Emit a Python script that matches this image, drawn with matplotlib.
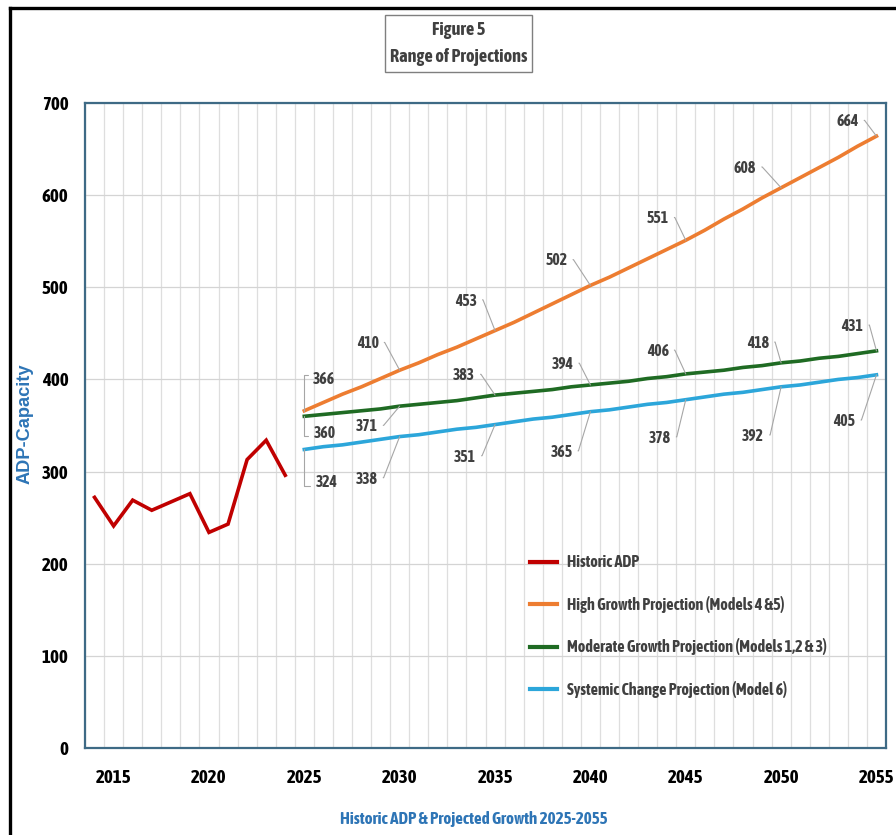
import matplotlib
matplotlib.use("Agg")
import matplotlib.pyplot as plt
import matplotlib.patheffects as pe
from matplotlib.lines import Line2D
from matplotlib.patches import Rectangle
from matplotlib import font_manager

# --- data -------------------------------------------------------------
hist_years = list(range(2014, 2025))
hist_adp = [272, 241, 269, 258, 267, 276, 234, 243, 313, 334, 296]

proj_years = list(range(2025, 2056))
high_growth = [366, 375, 384, 392, 401, 410, 418, 427, 435, 444,
               453, 462, 472, 482, 492, 502, 511, 521, 531, 541,
               551, 562, 574, 585, 597, 608, 619, 630, 641, 653, 664]
moderate_growth = [360, 362, 364, 366, 368, 371, 373, 375, 377, 380,
                   383, 385, 387, 389, 392, 394, 396, 398, 401, 403,
                   406, 408, 410, 413, 415, 418, 420, 423, 425, 428, 431]
systemic_change = [324, 327, 329, 332, 335, 338, 340, 343, 346, 348,
                   351, 354, 357, 359, 362, 365, 367, 370, 373, 375,
                   378, 381, 384, 386, 389, 392, 394, 397, 400, 402, 405]

series_names = ["Historic ADP",
                "High Growth Projection (Models 4 &5)",
                "Moderate Growth Projection (Models 1,2 & 3)",
                "Systemic Change Projection (Model 6)"]
x_ticks = [2015, 2020, 2025, 2030, 2035, 2040, 2045, 2050, 2055]
y_ticks = [0, 100, 200, 300, 400, 500, 600, 700]
label_years = [2025, 2030, 2035, 2040, 2045, 2050, 2055]


# --- fonts: prefer a narrow face, ideally with a bold cut -------------
def _wt(w):
    if isinstance(w, str):
        return font_manager.weight_dict.get(w, 400)
    return int(w)


ttf = font_manager.fontManager.ttflist
names = {f.name for f in ttf}
narrow_named = sorted(n for n in names if ("Narrow" in n or "Condensed" in n))
bold_narrow = [n for n in narrow_named
               if any(f.name == n and _wt(f.weight) >= 600 for f in ttf)]
stretch = "normal"
if bold_narrow:
    narrow, has_bold = bold_narrow[0], True
elif narrow_named:
    narrow, has_bold = narrow_named[0], False
elif any(f.name == "DejaVu Sans" and f.stretch == "condensed" for f in ttf):
    narrow, has_bold, stretch = "DejaVu Sans", True, "condensed"
else:
    narrow, has_bold = "Roboto", True
plt.rcParams["font.family"] = [narrow, "DejaVu Sans"]
plt.rcParams["font.stretch"] = stretch


def heavy(color, amount=0.9):
    """Stroke that thickens glyphs when the narrow face lacks a bold cut."""
    if has_bold:
        return []
    return [pe.withStroke(linewidth=amount, foreground=color)]


C_RED = "#C00000"
C_ORANGE = "#ED7D31"
C_GREEN = "#1F6B23"
C_BLUE = "#2CA6DA"
C_TEXT = "#404040"
C_AXTITLE = "#2E75B6"

W, H = 896, 835
fig = plt.figure(figsize=(W / 100, H / 100), dpi=100)
renderer = fig.canvas.get_renderer()


def size_for(s, target_px, **kw):
    """Font size (pt) that gives string s the requested pixel width."""
    t = fig.text(0, 0, s, fontsize=10, **kw)
    w = t.get_window_extent(renderer).width
    t.remove()
    return 10 * target_px / w


tick_fs = size_for("2015", 35, fontweight="bold")
lab_fs = size_for("366", 22)
leg_fs = size_for(series_names[2], 258, fontweight="bold")
xt_fs = size_for("Historic ADP & Projected Growth 2025-2055", 268, fontweight="bold")
tt_fs = size_for("Range of Projections", 136, fontweight="bold")
yt_fs = size_for("ADP-Capacity", 120, fontweight="bold",
                 family=["Liberation Sans", "DejaVu Sans"], stretch="normal")

ax = fig.add_axes([85 / W, (H - 748) / H, (886 - 85) / W, (748 - 103) / H])
ax.set_xlim(2013.5, 2055.5)
ax.set_ylim(0, 700)

# category-style gridlines between years
for gx in [y + 0.5 for y in range(2013, 2056)]:
    ax.axvline(gx, color="#DEDEDE", lw=0.9, zorder=0)
for gy in y_ticks[1:]:
    ax.axhline(gy, color="#D4D4D4", lw=0.9, zorder=0)

for s in ax.spines.values():
    s.set_color("#3E6A85")
    s.set_linewidth(1.6)

ax.set_xticks(x_ticks)
ax.set_xticklabels([str(t) for t in x_ticks], fontsize=tick_fs, fontweight="bold")
ax.set_yticks(y_ticks)
ax.set_yticklabels([str(t) for t in y_ticks], fontsize=tick_fs, fontweight="bold")
ax.tick_params(axis="both", length=0, colors="black")
ax.tick_params(axis="x", pad=15)
ax.tick_params(axis="y", pad=12)
for t in ax.get_xticklabels() + ax.get_yticklabels():
    t.set_path_effects(heavy("black", 1.1))

lw = 2.6
ax.plot(hist_years, hist_adp, color=C_RED, lw=lw, label=series_names[0],
        solid_joinstyle="miter", zorder=3)
ax.plot(proj_years, high_growth, color=C_ORANGE, lw=lw, label=series_names[1], zorder=3)
ax.plot(proj_years, moderate_growth, color=C_GREEN, lw=lw, label=series_names[2], zorder=3)
ax.plot(proj_years, systemic_change, color=C_BLUE, lw=lw, label=series_names[3], zorder=3)

# data callouts every five years (offsets in pixels, +y is up)
offsets = {
    "high": [(20, 32), (-32, 27), (-29, 30), (-34, 25), (-28, 22), (-36, 20), (-29, 15)],
    "mod": [(20, -17), (-33, -20), (-31, 20), (-28, 21), (-28, 23), (-23, 20), (-24, 25)],
    "sys": [(22, -33), (-33, -42), (-30, -32), (-29, -40), (-26, -38), (-28, -49), (-32, -46)],
}
values = {"high": high_growth, "mod": moderate_growth, "sys": systemic_change}
for key in ["high", "mod", "sys"]:
    for i, yr in enumerate(label_years):
        v = values[key][proj_years.index(yr)]
        dx, dy = offsets[key][i]
        if dx > 0:
            cs = "angle,angleA=0,angleB=90,rad=0"
            rel = (0.0, 0.75 if dy > 0 else 0.3)
        else:
            cs = "arc,angleA=0,armA=6,angleB=0,armB=0,rad=0"
            rel = (1.0, 0.55)
        ann = ax.annotate(str(v), xy=(yr, v), xytext=(dx, dy), textcoords="offset pixels",
                          ha="center", va="center", fontsize=lab_fs, color=C_TEXT,
                          fontweight="bold",
                          arrowprops=dict(arrowstyle="-", color="#A6A6A6", lw=0.8,
                                          connectionstyle=cs, relpos=rel,
                                          shrinkA=2, shrinkB=0),
                          zorder=4)
        ann.set_path_effects(heavy(C_TEXT, 0.6))

leg_px = leg_fs * 100 / 72
leg = ax.legend(loc="upper left",
                bbox_to_anchor=((524 - 85) / (886 - 85), (748 - 548) / (748 - 103)),
                frameon=False, fontsize=leg_fs,
                labelspacing=(41.5 - leg_px) / leg_px,
                handlelength=27 / leg_px, handletextpad=10 / leg_px, borderaxespad=0)
for t in leg.get_texts():
    t.set_color(C_TEXT)
    t.set_fontweight("bold")
    t.set_path_effects(heavy(C_TEXT, 0.7))
for h in leg.get_lines():
    h.set_linewidth(3)

# axis titles
fig.text(25 / W, 1 - 424 / H, "ADP-Capacity", rotation=90, ha="center", va="center",
         fontsize=yt_fs, fontweight="bold", color=C_AXTITLE,
         family=["Liberation Sans", "DejaVu Sans"], stretch="normal")
xt = fig.text(474 / W, 1 - 819 / H, "Historic ADP & Projected Growth 2025-2055",
              ha="center", va="center", fontsize=xt_fs, fontweight="bold", color=C_AXTITLE)
xt.set_path_effects(heavy(C_AXTITLE, 0.8))

# title box
fig.add_artist(Rectangle((385 / W, 1 - 72 / H), (532 - 385) / W, (72 - 15) / H,
                         transform=fig.transFigure, fc="white", ec="#7F7F7F", lw=1.0))
for ty, line in [(30, "Figure 5"), (57, "Range of Projections")]:
    tt = fig.text(458.5 / W, 1 - ty / H, line, ha="center", va="center",
                  fontsize=tt_fs, fontweight="bold", color=C_TEXT)
    tt.set_path_effects(heavy(C_TEXT, 0.9))

# outer frame edges
fig.add_artist(Line2D([9.5 / W, 1], [1 - 7.5 / H, 1 - 7.5 / H], color="black", lw=2.4,
                      transform=fig.transFigure))
fig.add_artist(Line2D([9.5 / W, 9.5 / W], [0, 1 - 7.5 / H], color="black", lw=2.4,
                      transform=fig.transFigure))

fig.savefig("out.png", dpi=100)
